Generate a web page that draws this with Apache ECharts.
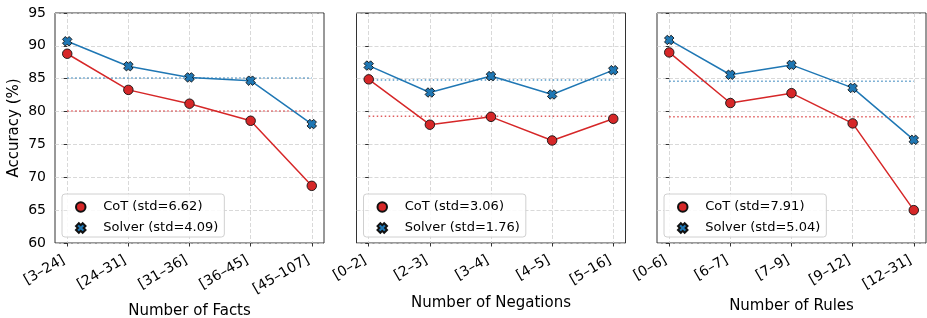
<!DOCTYPE html>
<html><head><meta charset="utf-8">
<script src="https://cdn.jsdelivr.net/npm/echarts@6/dist/echarts.min.js"></script>
<style>html,body{margin:0;padding:0;background:#fff}#c{width:927px;height:318px}</style>
</head><body><div id="c"></div>
<script>
const factsCats = ['[3–24]','[24–31]','[31–36]','[36–45]','[45–107]'];
const negCats = ['[0–2]','[2–3]','[3–4]','[4–5]','[5–16]'];
const rulesCats = ['[0–6]','[6–7]','[7–9]','[9–12]','[12–31]'];
const factsCoT = [88.8, 83.3, 81.2, 78.6, 68.7];
const factsSolver = [90.7, 86.9, 85.2, 84.7, 78.1];
const negCoT = [84.9, 78.0, 79.2, 75.6, 78.9];
const negSolver = [87.0, 82.9, 85.4, 82.6, 86.3];
const rulesCoT = [89.0, 81.3, 82.8, 78.2, 65.0];
const rulesSolver = [90.9, 85.6, 87.1, 83.6, 75.7];
const cotMeans = [80.1, 79.3, 79.2];
const solverMeans = [85.1, 84.8, 84.6];
const cotStd = ['6.62', '3.06', '7.91'];
const solverStd = ['4.09', '1.76', '5.04'];
const xTitles = ['Number of Facts', 'Number of Negations', 'Number of Rules'];
const yTicks = [60, 65, 70, 75, 80, 85, 90, 95];

const cats = [factsCats, negCats, rulesCats];
const cot = [factsCoT, negCoT, rulesCoT];
const solver = [factsSolver, negSolver, rulesSolver];

const FONT = 'DejaVu Sans';
const RED = '#d62728', BLUE = '#1f77b4';
const XSYM = 'path://M0,3L3,0L5,2L7,0L10,3L8,5L10,7L7,10L5,8L3,10L0,7L2,5Z';
const gridLefts = [55, 356.5, 657];
const nameGaps = [61, 52.5, 56];

const grids = [], xAxes = [], yAxes = [], series = [], legends = [];
for (let p = 0; p < 3; p++) {
  const idx = cats[p].map((_, i) => i);
  grids.push({left: gridLefts[p], top: 13, width: 269, height: 230, show: true,
    containLabel: false, outerBoundsMode: 'none',
    borderColor: '#333', borderWidth: 1, backgroundColor: 'transparent'});
  xAxes.push({type: 'value', gridIndex: p, min: -0.2, max: 4.2,
    name: xTitles[p], nameLocation: 'middle', nameGap: nameGaps[p],
    nameTextStyle: {fontFamily: FONT, fontSize: 15, color: '#000'},
    axisLine: {show: false},
    axisTick: {show: true, length: 3.5, customValues: idx, lineStyle: {color: '#333', width: 1}},
    axisLabel: {show: true, customValues: idx, rotate: 30, margin: 14, padding: [0, 4, 0, 0],
      fontFamily: FONT, fontSize: 14, color: '#000',
      formatter: (v) => cats[p][Math.round(v)]},
    splitLine: {show: true, lineStyle: {color: '#cfcfcf', type: [4, 2], width: 0.8}}
  });
  yAxes.push({type: 'value', gridIndex: p, min: 60, max: 95, interval: 5,
    name: p === 0 ? 'Accuracy (%)' : '', nameLocation: 'middle', nameGap: 33,
    nameTextStyle: {fontFamily: FONT, fontSize: 15, color: '#000'},
    axisLine: {show: false},
    axisTick: {show: true, length: 3.5, lineStyle: {color: '#333', width: 1}},
    axisLabel: {show: p === 0, margin: 9, fontFamily: FONT, fontSize: 14, color: '#000',
      formatter: (v) => yTicks.includes(v) ? String(v) : ''},
    splitLine: {show: true, lineStyle: {color: '#cfcfcf', type: [4, 2], width: 0.8}}
  });
  const cotName = 'CoT (std=' + cotStd[p] + ')';
  const solName = 'Solver (std=' + solverStd[p] + ')';
  series.push({type: 'line', name: 'cotmean' + p, xAxisIndex: p, yAxisIndex: p,
    data: [[0, cotMeans[p]], [4, cotMeans[p]]], symbol: 'none', silent: true, z: 1,
    lineStyle: {color: RED, width: 1.5, type: [1.5, 2.5], opacity: 0.75}});
  series.push({type: 'line', name: 'solmean' + p, xAxisIndex: p, yAxisIndex: p,
    data: [[0, solverMeans[p]], [4, solverMeans[p]]], symbol: 'none', silent: true, z: 1,
    lineStyle: {color: BLUE, width: 1.5, type: [1.5, 2.5], opacity: 0.75}});
  series.push({type: 'line', name: cotName, xAxisIndex: p, yAxisIndex: p,
    data: cot[p].map((v, i) => [i, v]), symbol: 'circle', symbolSize: 9.5, z: 3,
    lineStyle: {color: RED, width: 1.5},
    itemStyle: {color: RED, borderColor: '#111', borderWidth: 0.9}});
  series.push({type: 'line', name: solName, xAxisIndex: p, yAxisIndex: p,
    data: solver[p].map((v, i) => [i, v]), symbol: XSYM, symbolSize: 9.5, z: 4,
    lineStyle: {color: BLUE, width: 1.5},
    itemStyle: {color: BLUE, borderColor: '#111', borderWidth: 0.9}});
  legends.push({orient: 'vertical', left: gridLefts[p] + 7, top: 194,
    padding: [5, 6, 1, 13], itemWidth: 35, itemHeight: 9.5, itemGap: 5,
    backgroundColor: 'rgba(255,255,255,0.85)', borderColor: '#d0d0d0', borderWidth: 1, borderRadius: 3,
    textStyle: {fontFamily: FONT, fontSize: 13, color: '#000', lineHeight: 16},
    data: [{name: cotName, icon: 'circle'}, {name: solName, icon: XSYM}],
    selectedMode: false});
}

const chart = echarts.init(document.getElementById('c'), null, {renderer: 'canvas'});
chart.setOption({animation: false, backgroundColor: '#fff', grid: grids, xAxis: xAxes, yAxis: yAxes,
  series: series, legend: legends});
</script></body></html>
